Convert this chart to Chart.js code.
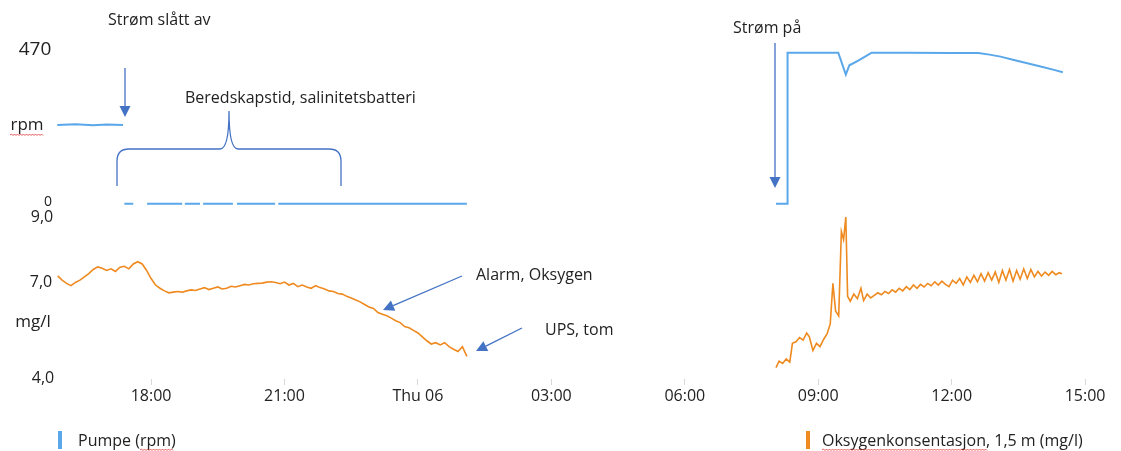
<!DOCTYPE html>
<html>
<head>
<meta charset="utf-8">
<script src="https://cdn.jsdelivr.net/npm/chart.js@4.4.1/dist/chart.umd.min.js"></script>
<style>
  html, body { margin: 0; padding: 0; background: #fff; }
  #wrap { width: 1121px; height: 451px; }
</style>
</head>
<body>
<div id="wrap"><canvas id="chart" width="1121" height="451"></canvas></div>
<script>
// hours counted from midnight on the first day (24 = Thu 06 00:00)
const tickHours = [18, 21, 24, 27, 30, 33, 36, 39];

// pump speed (rpm), null = no data
const pumpTimes = [15.89, 16.3, 16.7, 17.0, 17.37, 17.385, 17.40, 17.60, 17.75, 17.91, 18.70, 18.73, 18.76, 19.10, 19.13, 19.17,
    19.84, 19.88, 19.93, 20.79, 20.82, 20.86, 25.10, 28.0, 32.05, 32.30, 32.31, 33.45, 33.62, 33.70, 33.90, 34.10, 34.20,
    35.0, 36.0, 36.6, 36.85, 37.1, 37.4, 37.7, 38.0, 38.3, 38.5];
const pumpRpm = [238, 240, 237, 239, 238, null, 0, 0, null, 0, 0, null, 0, 0, null, 0,
    0, null, 0, 0, null, 0, 0, null, 0, 0, 456, 456, 390, 418, 432, 448, 456,
    456, 455, 455, 450, 444, 434, 424, 414, 404, 397];

// oxygen at 1.5 m (mg/l)
const oxyTimes = [
    15.9, 16.0, 16.1, 16.2, 16.3, 16.4, 16.5, 16.6, 16.7, 16.8, 16.9, 17.0, 17.1, 17.2, 17.3, 17.4, 17.5, 17.6, 17.7, 17.8,
    17.9, 18.0, 18.1, 18.2, 18.3, 18.4, 18.5, 18.6, 18.7, 18.8, 18.9, 19.0, 19.1, 19.2, 19.3, 19.4, 19.5, 19.6, 19.7, 19.8,
    19.9, 20.0, 20.1, 20.2, 20.3, 20.4, 20.5, 20.6, 20.7, 20.8, 20.9, 21.0, 21.1, 21.2, 21.3, 21.4, 21.5, 21.6, 21.7, 21.8,
    21.9, 22.0, 22.1, 22.2, 22.3, 22.4, 22.5, 22.6, 22.7, 22.8, 22.9, 23.0, 23.1, 23.2, 23.3, 23.4, 23.5, 23.6, 23.7, 23.8,
    23.9, 24.0, 24.1, 24.2, 24.3, 24.4, 24.5, 24.6, 24.7, 24.8, 24.9, 25.0, 25.1,
    28.0,
    32.05, 32.12, 32.20, 32.28, 32.36, 32.42, 32.50, 32.58, 32.66, 32.74, 32.80, 32.88, 32.96, 33.04, 33.12, 33.20, 33.27,
    33.33, 33.39, 33.46, 33.52, 33.57, 33.62, 33.66, 33.72, 33.80, 33.88, 33.96, 34.02, 34.10, 34.18, 34.26, 34.34, 34.42,
    34.50, 34.58, 34.66, 34.74, 34.82, 34.90, 34.98, 35.06, 35.14, 35.22, 35.30, 35.38, 35.46, 35.54, 35.62, 35.70, 35.78,
    35.86, 35.94, 36.02, 36.10, 36.18, 36.26, 36.34, 36.42, 36.50, 36.58, 36.66, 36.74, 36.82, 36.90, 36.98, 37.06, 37.14,
    37.22, 37.30, 37.38, 37.46, 37.54, 37.62, 37.70, 37.78, 37.86, 37.94, 38.02, 38.10, 38.18, 38.26, 38.34, 38.42, 38.48];
const oxyMgl = [
    7.18, 7.05, 6.95, 6.88, 6.98, 7.05, 7.15, 7.25, 7.38, 7.46, 7.42, 7.35, 7.40, 7.32, 7.45, 7.48, 7.40, 7.55, 7.62, 7.55,
    7.35, 7.10, 6.90, 6.80, 6.72, 6.66, 6.68, 6.70, 6.68, 6.72, 6.75, 6.73, 6.78, 6.82, 6.76, 6.80, 6.84, 6.78, 6.80, 6.86,
    6.84, 6.88, 6.92, 6.90, 6.94, 6.95, 6.96, 6.99, 7.00, 6.98, 6.94, 6.99, 6.90, 6.95, 6.85, 6.90, 6.84, 6.80, 6.88, 6.82,
    6.78, 6.72, 6.70, 6.64, 6.62, 6.55, 6.50, 6.44, 6.38, 6.30, 6.22, 6.18, 6.05, 6.00, 5.95, 5.88, 5.80, 5.74, 5.62, 5.58,
    5.50, 5.42, 5.30, 5.18, 5.08, 5.12, 5.05, 5.12, 5.00, 4.92, 4.85, 5.00, 4.70,
    null,
    4.35, 4.55, 4.48, 4.62, 4.52, 5.10, 5.15, 5.28, 5.20, 5.42, 5.30, 4.88, 5.10, 5.00, 5.22, 5.40, 5.70,
    6.95, 6.10, 5.95, 8.55, 8.30, 9.00, 6.55, 6.40, 6.62, 6.48, 6.80, 6.42, 6.62, 6.50, 6.58, 6.66, 6.60,
    6.70, 6.64, 6.75, 6.68, 6.80, 6.72, 6.85, 6.76, 6.90, 6.80, 6.92, 6.84, 6.95, 6.88, 7.00, 6.90, 7.02,
    6.92, 6.85, 7.05, 6.95, 7.10, 6.90, 7.15, 6.98, 7.20, 7.00, 7.25, 7.02, 7.28, 7.05, 7.30, 6.98, 7.35,
    7.05, 7.38, 7.02, 7.35, 7.08, 7.40, 7.10, 7.38, 7.15, 7.32, 7.18, 7.30, 7.20, 7.32, 7.22, 7.28, 7.25];

const FONT = '"Open Sans", "DejaVu Sans", sans-serif';
const BLUE = '#5AA7EA';
const ORANGE = '#EE8A1F';
const ARROW = '#4472C4';

function toPoints(times, values) {
    return times.map((t, i) => ({ x: t, y: values[i] }));
}

function hourLabel(v) {
    if (v === 24) return 'Thu 06';
    let h = v % 24;
    return (h < 10 ? '0' : '') + h + ':00';
}

function drawArrow(ctx, x1, y1, x2, y2) {
    const ang = Math.atan2(y2 - y1, x2 - x1);
    const len = 11, half = 5.5;
    const bx = x2 - len * Math.cos(ang), by = y2 - len * Math.sin(ang);
    ctx.beginPath();
    ctx.moveTo(x1, y1);
    ctx.lineTo(bx, by);
    ctx.stroke();
    ctx.beginPath();
    ctx.moveTo(x2, y2);
    ctx.lineTo(bx + half * Math.sin(ang), by - half * Math.cos(ang));
    ctx.lineTo(bx - half * Math.sin(ang), by + half * Math.cos(ang));
    ctx.closePath();
    ctx.fill();
}

// red spell-check squiggle
function squiggle(ctx, x1, x2, y) {
    ctx.save();
    ctx.strokeStyle = '#E03030';
    ctx.lineWidth = 0.8;
    ctx.beginPath();
    let up = true;
    ctx.moveTo(x1, y);
    for (let x = x1 + 1.5; x <= x2; x += 1.5) {
        ctx.lineTo(x, up ? y - 1 : y + 0.5);
        up = !up;
    }
    ctx.stroke();
    ctx.restore();
}

function text(ctx, str, x, y, size, align) {
    ctx.font = size + 'px ' + FONT;
    ctx.textAlign = align || 'left';
    ctx.fillText(str, x, y);
}

const overlay = {
    id: 'overlay',
    afterDraw(chart) {
        const ctx = chart.ctx;
        ctx.save();
        ctx.fillStyle = '#222';
        ctx.textBaseline = 'middle';

        // axis captions
        text(ctx, '470', 35, 50, 19, 'center');
        text(ctx, 'rpm', 27, 125, 17, 'center');
        squiggle(ctx, 10, 43, 135);
        ctx.fillStyle = '#222';
        text(ctx, '0', 48, 202, 14, 'center');
        text(ctx, '9,0', 42, 217, 16, 'center');
        text(ctx, '7,0', 41, 282, 16, 'center');
        text(ctx, 'mg/l', 33, 322, 17, 'center');
        text(ctx, '4,0', 43, 378, 16, 'center');

        // annotations
        text(ctx, 'Strøm slått av', 108, 20, 16);
        text(ctx, 'Beredskapstid, salinitetsbatteri', 185, 98, 16);
        text(ctx, 'Strøm på', 733, 28, 16);
        text(ctx, 'Alarm, Oksygen', 476, 275, 16);
        text(ctx, 'UPS, tom', 545, 330, 16);

        ctx.strokeStyle = ARROW;
        ctx.fillStyle = ARROW;
        ctx.lineWidth = 1.3;
        drawArrow(ctx, 125, 68, 125, 117);
        drawArrow(ctx, 775, 43, 775, 188);
        drawArrow(ctx, 462, 276, 383, 310);
        drawArrow(ctx, 522, 328, 476, 351);

        // brace
        ctx.beginPath();
        ctx.moveTo(117, 186);
        ctx.lineTo(117, 161);
        ctx.quadraticCurveTo(117, 149, 129, 149);
        ctx.lineTo(220, 149);
        ctx.quadraticCurveTo(229, 149, 229, 111);
        ctx.quadraticCurveTo(229, 149, 238, 149);
        ctx.lineTo(329, 149);
        ctx.quadraticCurveTo(341, 149, 341, 161);
        ctx.lineTo(341, 186);
        ctx.stroke();

        // legend
        ctx.fillStyle = BLUE;
        ctx.fillRect(58, 431, 4, 18);
        ctx.fillStyle = ORANGE;
        ctx.fillRect(806, 431, 4, 18);
        ctx.fillStyle = '#222';
        text(ctx, 'Pumpe (rpm)', 78, 441, 16);
        text(ctx, 'Oksygenkonsentasjon, 1,5 m (mg/l)', 822, 441, 16);
        squiggle(ctx, 140, 173, 450);
        squiggle(ctx, 822, 987, 450);
        ctx.restore();
    }
};

const hiddenY = {
    ticks: { display: false },
    grid: { display: false },
    border: { display: false },
    position: 'left',
    stack: 'panels',
    afterFit: s => { s.width = 0; }
};

new Chart(document.getElementById('chart'), {
    type: 'line',
    data: {
        datasets: [
            {
                label: 'Pumpe (rpm)',
                data: toPoints(pumpTimes, pumpRpm),
                yAxisID: 'yP',
                borderColor: BLUE,
                borderWidth: 2,
                pointRadius: 0,
                spanGaps: false
            },
            {
                label: 'Oksygenkonsentasjon, 1,5 m (mg/l)',
                data: toPoints(oxyTimes, oxyMgl),
                yAxisID: 'yO',
                borderColor: ORANGE,
                borderWidth: 1.6,
                pointRadius: 0,
                spanGaps: false
            }
        ]
    },
    options: {
        responsive: false,
        animation: false,
        layout: { padding: { top: 48, left: 57, right: 31, bottom: 40 } },
        plugins: { legend: { display: false }, tooltip: { enabled: false } },
        scales: {
            x: {
                type: 'linear',
                min: 15.885,
                max: 39.11,
                afterBuildTicks: s => { s.ticks = tickHours.map(v => ({ value: v })); },
                ticks: {
                    callback: v => hourLabel(v),
                    font: { size: 16, family: FONT },
                    color: '#222',
                    padding: 2,
                    maxRotation: 0,
                    autoSkip: false
                },
                grid: { display: true, drawOnChartArea: false, tickLength: 6, color: '#d8d8d8' },
                border: { display: false },
                afterFit: s => { s.height = 32; }
            },
            // left stacked axes are placed bottom-up, so the lower panel comes first
            yO: Object.assign({}, hiddenY, { min: 4.0, max: 9.2, stackWeight: 168.5 }),
            yP: Object.assign({}, hiddenY, { min: -20, max: 470, stackWeight: 162.5 })
        }
    },
    plugins: [overlay]
});
</script>
</body>
</html>
